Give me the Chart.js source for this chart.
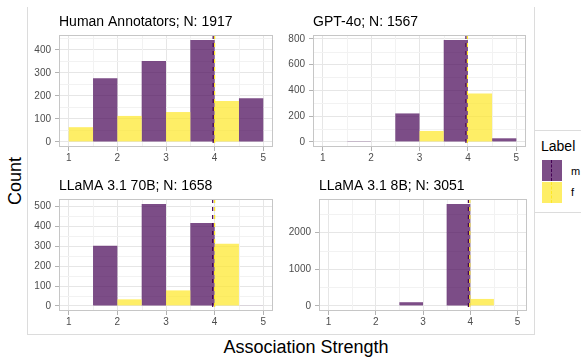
<!DOCTYPE html>
<html>
<head>
<meta charset="utf-8">
<script src="https://cdn.jsdelivr.net/npm/chart.js@4.4.1/dist/chart.umd.min.js"></script>
<style>
  html, body { margin: 0; padding: 0; background: #fff; }
  #wrap { position: relative; width: 581px; height: 358px; overflow: hidden; background: #fff;
          font-family: 'Liberation Sans', Arial, sans-serif; color: #000; }
  #wrap canvas { position: absolute; }
  .frame { position: absolute; border: 1px solid #dcdcdc; box-sizing: border-box; }
  .txt { position: absolute; white-space: nowrap; line-height: 1; }
  .key { position: absolute; width: 20px; height: 21px; }
  .key i { position: absolute; left: 9px; top: 0; height: 21px; border-left: 1px dashed; }
</style>
</head>
<body>
<div id="wrap">
  <div class="frame" style="left:27px; top:7px; width:508px; height:328px; border-top:none;"></div>
  <div class="frame" style="left:534px; top:130px; width:60px; height:83px; background:#fff;"></div>

  <div class="txt" style="left:541px; top:139px; font-size:14px;">Label</div>
  <div class="key" style="left:542px; top:160px; background:rgba(68,1,84,0.7);"><i style="border-color:#440154;"></i></div>
  <div class="key" style="left:542px; top:182px; background:rgba(253,231,37,0.7);"><i style="border-color:#FDE725;"></i></div>
  <div class="txt" style="left:571px; top:166px; font-size:11px;">m</div>
  <div class="txt" style="left:571px; top:187px; font-size:11px;">f</div>

  <div class="txt" style="left:-10px; top:172px; width:50px; text-align:center; font-size:18px; transform:rotate(-90deg);">Count</div>
  <div class="txt" style="left:206px; top:338px; width:200px; text-align:center; font-size:18px;">Association Strength</div>
</div>
<script>
// histogram bins (dodged: f left half, m right half of each bin)
const BIN_CENTERS = [1.5, 2.5, 3.5, 4.5];
const X_TICKS = [1, 2, 3, 4, 5];
const X_MINOR = [1.5, 2.5, 3.5, 4.5];

const PANEL_TITLES = [
    'Human Annotators; N: 1917',
    'GPT-4o; N: 1567',
    'LLaMA 3.1 70B; N: 1658',
    'LLaMA 3.1 8B; N: 3051',
];

// counts per bin, one row per panel
const M_COUNTS = [
    [277, 352, 443, 190],
    [6, 221, 790, 28],
    [303, 512, 417, 2],
    [0, 100, 2762, 0],
];
const F_COUNTS = [
    [64, 113, 130, 178],
    [0, 0, 85, 376],
    [0, 33, 78, 313],
    [0, 0, 0, 189],
];

const Y_TICKS = [
    [0, 100, 200, 300, 400],
    [0, 200, 400, 600, 800],
    [0, 100, 200, 300, 400, 500],
    [0, 1000, 2000],
];

// dashed reference lines (per label)
const M_LINE = [3.97, 3.96, 3.96, 3.96];
const F_LINE = [4.0, 3.99, 4.0, 3.99];

const M_FILL = 'rgba(68, 1, 84, 0.7)';
const F_FILL = 'rgba(253, 231, 37, 0.7)';
const FONT = "'Liberation Sans', Arial, sans-serif";

// canvas placement for each facet
const LAYOUT = [
    { left: 27, top: 5, width: 254, yWidth: 32, padRight: 8 },
    { left: 281, top: 5, width: 253, yWidth: 32, padRight: 8 },
    { left: 27, top: 169, width: 254, yWidth: 32, padRight: 8 },
    { left: 281, top: 169, width: 253, yWidth: 38, padRight: 7 },
];
const PAD_TOP = 30;
const X_HEIGHT = 20;
const PLOT_H = 112;

const facetPlugin = {
    id: 'facetDecor',
    beforeDatasetsDraw(chart) {
        const { ctx, chartArea: a, scales: { x, y } } = chart;
        const idx = chart.options.plugins.facetDecor.index;
        ctx.save();
        ctx.strokeStyle = '#f2f2f2';
        ctx.lineWidth = 1;
        X_MINOR.forEach(v => {
            const px = Math.round(x.getPixelForValue(v)) + 0.5;
            ctx.beginPath(); ctx.moveTo(px, a.top); ctx.lineTo(px, a.bottom); ctx.stroke();
        });
        const t = Y_TICKS[idx];
        const step = t[1] - t[0];
        const minors = t.map(v => v + step / 2);
        minors.forEach(v => {
            if (v > y.max) return;
            const py = Math.round(y.getPixelForValue(v)) + 0.5;
            ctx.beginPath(); ctx.moveTo(a.left, py); ctx.lineTo(a.right, py); ctx.stroke();
        });
        ctx.restore();
    },
    afterDatasetsDraw(chart) {
        const { ctx, chartArea: a, scales: { x } } = chart;
        const idx = chart.options.plugins.facetDecor.index;
        ctx.save();
        ctx.lineWidth = 1.2;
        ctx.setLineDash([4, 4]);
        [[M_LINE[idx], '#440154'], [F_LINE[idx], '#FDE725']].forEach(([v, c]) => {
            const px = x.getPixelForValue(v);
            ctx.strokeStyle = c;
            ctx.beginPath(); ctx.moveTo(px, a.top); ctx.lineTo(px, a.bottom); ctx.stroke();
        });
        ctx.setLineDash([]);
        // panel border
        ctx.strokeStyle = '#c6c6c6';
        ctx.lineWidth = 1;
        ctx.strokeRect(a.left + 0.5, a.top + 0.5, a.right - a.left - 1, a.bottom - a.top - 1);
        // facet title
        ctx.fillStyle = '#000';
        ctx.font = `14px ${FONT}`;
        ctx.textBaseline = 'alphabetic';
        ctx.fillText(PANEL_TITLES[idx], a.left, a.top - 9);
        ctx.restore();
    }
};

function makePanel(idx) {
    const lay = LAYOUT[idx];
    const canvas = document.createElement('canvas');
    const h = PAD_TOP + PLOT_H + X_HEIGHT;
    canvas.width = lay.width;
    canvas.height = h;
    canvas.style.left = lay.left + 'px';
    canvas.style.top = lay.top + 'px';
    canvas.style.width = lay.width + 'px';
    canvas.style.height = h + 'px';
    document.getElementById('wrap').appendChild(canvas);

    const peak = Math.max(...M_COUNTS[idx], ...F_COUNTS[idx]);
    const tickFont = { family: FONT, size: 10 };

    new Chart(canvas, {
        type: 'bar',
        data: {
            datasets: [
                {
                    label: 'f',
                    data: BIN_CENTERS.map((c, i) => ({ x: c, y: F_COUNTS[idx][i] })),
                    backgroundColor: F_FILL,
                    borderWidth: 0,
                    inflateAmount: 0,
                },
                {
                    label: 'm',
                    data: BIN_CENTERS.map((c, i) => ({ x: c, y: M_COUNTS[idx][i] })),
                    backgroundColor: M_FILL,
                    borderWidth: 0,
                    inflateAmount: 0,
                },
            ]
        },
        plugins: [facetPlugin],
        options: {
            responsive: false,
            animation: false,
            devicePixelRatio: 1,
            categoryPercentage: 1,
            barPercentage: 1,
            layout: { padding: { top: PAD_TOP, right: lay.padRight, left: 0, bottom: 0 } },
            plugins: {
                legend: { display: false },
                tooltip: { enabled: false },
                facetDecor: { index: idx },
            },
            scales: {
                x: {
                    type: 'linear',
                    min: 0.8,
                    max: 5.2,
                    offset: false,
                    afterBuildTicks: s => { s.ticks = X_TICKS.map(v => ({ value: v })); },
                    afterFit: s => { s.height = X_HEIGHT; },
                    ticks: { color: '#4d4d4d', font: tickFont, padding: 1, maxRotation: 0, callback: v => String(v) },
                    grid: { offset: false, color: '#e6e6e6', lineWidth: 1, tickLength: 4, tickColor: '#b3b3b3' },
                    border: { display: false },
                },
                y: {
                    type: 'linear',
                    min: -0.05 * peak,
                    max: 1.05 * peak,
                    afterBuildTicks: s => { s.ticks = Y_TICKS[idx].map(v => ({ value: v })); },
                    afterFit: s => { s.width = lay.yWidth; },
                    ticks: { color: '#4d4d4d', font: tickFont, padding: 4, callback: v => String(v) },
                    grid: { color: '#e6e6e6', lineWidth: 1, tickLength: 4, tickColor: '#b3b3b3' },
                    border: { display: false },
                }
            }
        }
    });
}

PANEL_TITLES.forEach((_, i) => makePanel(i));
</script>
</body>
</html>
